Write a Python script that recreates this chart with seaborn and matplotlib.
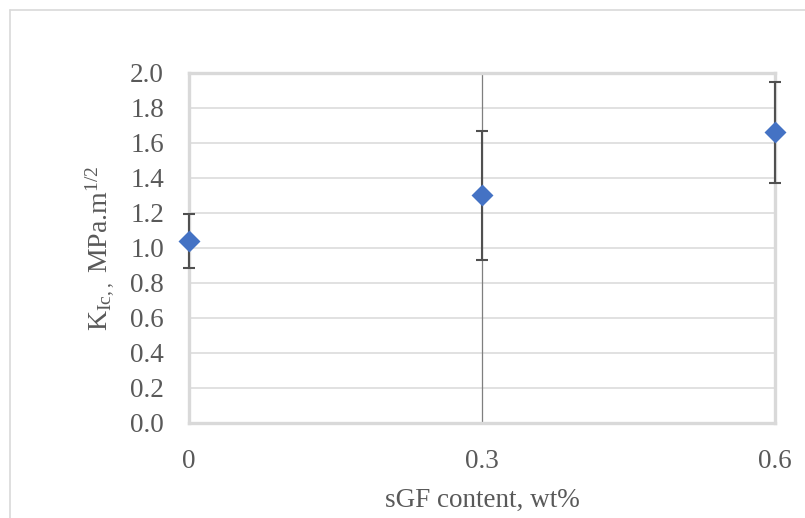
import matplotlib
matplotlib.use("Agg")
import matplotlib.pyplot as plt
import seaborn as sns
import pandas as pd
from matplotlib.lines import Line2D

# Fracture toughness vs. sGF content
sgf_content = [0.0, 0.3, 0.6]
kic_mean = [1.04, 1.30, 1.66]
kic_err = [0.155, 0.37, 0.29]
x_ticks = [0.0, 0.3, 0.6]
x_tick_labels = ["0", "0.3", "0.6"]
y_ticks = [0.0, 0.2, 0.4, 0.6, 0.8, 1.0, 1.2, 1.4, 1.6, 1.8, 2.0]

df = pd.DataFrame({"sgf": sgf_content, "kic": kic_mean, "err": kic_err})

sns.set_theme(style="white")
plt.rcParams["font.family"] = ["Liberation Serif", "DejaVu Serif"]
plt.rcParams["mathtext.fontset"] = "custom"
plt.rcParams["mathtext.rm"] = "Liberation Serif"
plt.rcParams["mathtext.it"] = "Liberation Serif:italic"

text_color = "#595959"
grid_color = "#d9d9d9"

fig = plt.figure(figsize=(8.05, 5.18), dpi=100)
ax = fig.add_axes([0.2348, 0.1834, 0.7279, 0.6757])

# Outer chart-area frame (top and left edges)
fig.add_artist(Line2D([10 / 805, 1.0], [1 - 10 / 518, 1 - 10 / 518],
                      transform=fig.transFigure, color="#d9d9d9", lw=1.2))
fig.add_artist(Line2D([10 / 805, 10 / 805], [0.0, 1 - 10 / 518],
                      transform=fig.transFigure, color="#d9d9d9", lw=1.2))

ax.set_xlim(0, 0.6)
ax.set_ylim(0, 2.0)
ax.set_yticks(y_ticks)
ax.set_yticklabels([f"{v:.1f}" for v in y_ticks])
ax.set_xticks(x_ticks)
ax.set_xticklabels(x_tick_labels)

ax.yaxis.grid(True, color=grid_color, lw=1.1)
ax.xaxis.grid(False)
ax.set_axisbelow(True)
for side in ["left", "right", "top", "bottom"]:
    ax.spines[side].set_visible(True)
    ax.spines[side].set_color(grid_color)
    ax.spines[side].set_linewidth(2.4)

ax.axvline(0.3, color="#7f7f7f", lw=0.9, zorder=1.5)

ax.errorbar(df["sgf"], df["kic"], yerr=df["err"], fmt="none",
            ecolor="#505050", elinewidth=1.5, capsize=4.0, capthick=1.5,
            zorder=3, clip_on=False)

sns.scatterplot(data=df, x="sgf", y="kic", marker="D", s=125,
                color="#4472C4", edgecolor="#4472C4", linewidth=0,
                zorder=4, clip_on=False, ax=ax)

ax.tick_params(axis="both", which="both", length=0, labelsize=19.5,
               labelcolor=text_color)
ax.tick_params(axis="y", pad=18)
ax.tick_params(axis="x", pad=19)

ax.set_xlabel("sGF content, wt%", fontsize=19.5, color=text_color, labelpad=10)
ax.set_ylabel(r"K$_{\mathrm{Ic,,}}$ MPa.m$^{1/2}$", fontsize=20,
              color=text_color, labelpad=10)

fig.savefig("out.png", dpi=100)
